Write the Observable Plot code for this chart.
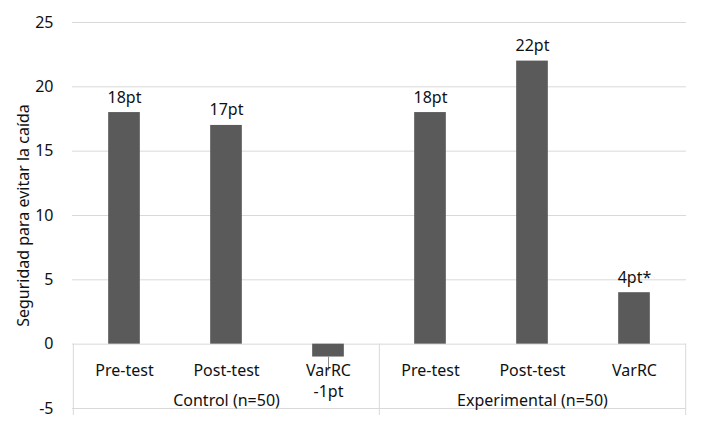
<!DOCTYPE html>
<html><head><meta charset="utf-8">
<script src="https://cdn.jsdelivr.net/npm/d3@7"></script>
<script src="https://cdn.jsdelivr.net/npm/@observablehq/plot@0.6"></script>
<style>body{margin:0;background:#fff} svg{display:block}</style>
</head><body><div id="chart"></div>
<script>
const groups = ["Control (n=50)", "Control (n=50)", "Control (n=50)", "Experimental (n=50)", "Experimental (n=50)", "Experimental (n=50)"];
const phases = ["Pre-test", "Post-test", "VarRC", "Pre-test", "Post-test", "VarRC"];
const values = [18, 17, -1, 18, 22, 4];
const valueLabels = ["18pt", "17pt", "-1pt", "18pt", "22pt", "4pt*"];
const yTicks = [-5, 0, 5, 10, 15, 20, 25];
const yTitle = "Seguridad para evitar la caída";

const data = phases.map((p, i) => ({key: groups[i] + "|" + p, group: groups[i], phase: p, value: values[i], label: valueLabels[i]}));
const keys = data.map(d => d.key);
const groupNames = [...new Set(groups)];
const groupMid = groupNames.map(g => ({group: g, key: g + "|Post-test"}));
const leftEdges = groupNames.map(g => ({key: g + "|Pre-test"}));
const rightEdges = [{key: groupNames[groupNames.length - 1] + "|VarRC"}];

const W = 708, H = 429, ML = 72, MR = 22, MT = 22, MB = 21;
const step = (W - ML - MR) / keys.length;
const barW = 32;
const ink = "#111";
const grid = "#d9d9d9";

const chart = Plot.plot({
  width: W, height: H,
  marginLeft: ML, marginRight: MR, marginTop: MT, marginBottom: MB,
  style: {fontFamily: "Noto Sans", fontSize: "16px", color: ink, background: "#fff"},
  x: {type: "band", domain: keys, padding: 0, axis: null},
  y: {domain: [-5, 25], ticks: yTicks},
  marks: [
    Plot.ruleY(yTicks, {stroke: grid, strokeWidth: 1}),
    Plot.ruleX(leftEdges, {x: "key", y1: 0, y2: -5, dx: -step / 2, stroke: grid, insetBottom: -7}),
    Plot.ruleX(rightEdges, {x: "key", y1: 0, y2: -5, dx: step / 2, stroke: grid, insetBottom: -7}),
    Plot.barY(data, {x: "key", y: "value", fill: "#5a5a5a", insetLeft: (step - barW) / 2, insetRight: (step - barW) / 2}),
    Plot.ruleX(data.filter(d => d.value < 0), {x: "key", y1: "value", y2: "value", insetBottom: -14, stroke: "#8c8c8c", strokeWidth: 1}),
    Plot.text(data.filter(d => d.value >= 0), {x: "key", y: "value", text: "label", lineAnchor: "bottom", dy: -10, fill: ink, fontSize: 16}),
    Plot.text(data, {x: "key", y: 0, text: d => d.value < 0 ? d.phase + "\n" + d.label : d.phase, lineAnchor: "top", lineHeight: 1.3, dy: 17, fill: ink, fontSize: 16}),
    Plot.text(groupMid, {x: "key", y: -5, text: "group", lineAnchor: "middle", dy: -8, fill: ink, fontSize: 16}),
    Plot.axisY({ticks: yTicks, tickFormat: d => String(d), tickSize: 0, tickPadding: 19, label: yTitle, labelAnchor: "center", labelArrow: "none", labelOffset: 55, fontSize: 16, fill: ink}),
  ]
});
document.getElementById("chart").appendChild(chart);
</script>
</body></html>
